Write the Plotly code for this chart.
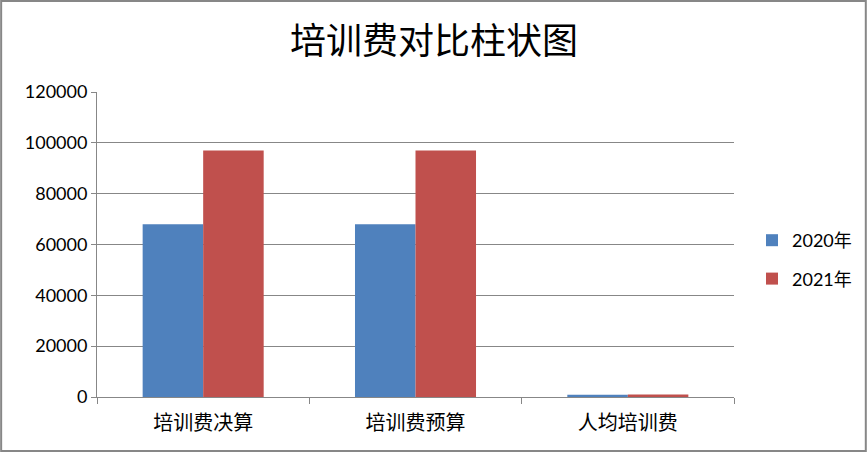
import plotly.graph_objects as go

categories = ["培训费决算", "培训费预算", "人均培训费"]
series_names = ["2020年", "2021年"]
values_2020 = [68000, 68000, 900]
values_2021 = [97000, 97000, 950]
colors = ["#4F81BD", "#C0504D"]

W, H = 868, 452
L, R, T, B = 97, 133, 92, 55
pw, ph = W - L - R, H - T - B

fig = go.Figure()
for name, vals, c in zip(series_names, [values_2020, values_2021], colors):
    fig.add_trace(go.Bar(x=categories, y=vals, name=name, legendgroup=name,
                         marker=dict(color=c, line=dict(width=0))))

font_lat = "Lato, 'Noto Sans CJK SC', sans-serif"
cjk = "'Noto Sans CJK SC', sans-serif"
fig.update_layout(
    width=W, height=H,
    margin=dict(l=L, r=R, t=T, b=B),
    paper_bgcolor="white", plot_bgcolor="white",
    barmode="group", bargap=0.43, bargroupgap=0,
    title=dict(text="培训费对比柱状图", x=0.5, xanchor="center", y=1 - 41 / H, yanchor="middle",
               font=dict(family=cjk, size=36, color="black")),
    legend=dict(x=(752 - L) / pw, y=(397 - 222) / ph, xanchor="left", yanchor="top",
                font=dict(family=font_lat, size=18, color="black"), tracegroupgap=12,
                itemwidth=30, bgcolor="rgba(0,0,0,0)"),
    showlegend=True,
)
fig.update_yaxes(range=[0, 120000], dtick=20000, showgrid=True, gridcolor="#878787", gridwidth=1,
                 showline=True, linecolor="#878787", linewidth=1, ticks="outside", ticklen=5,
                 tickcolor="#878787", tickfont=dict(family=font_lat, size=18, color="black"),
                 zeroline=False, tickformat="d")
fig.update_xaxes(showline=True, linecolor="#878787", linewidth=1, ticks="outside", ticklen=6,
                 tickcolor="#878787", tickson="boundaries", ticklabelstandoff=8,
                 tickfont=dict(family=cjk, size=20, color="black"))
# outer chart border
fig.add_shape(type="rect", xref="paper", yref="paper",
              x0=(1 - L) / pw, x1=(W - 1 - L) / pw,
              y0=-(B - 1) / ph, y1=(T - 1 + ph) / ph,
              line=dict(color="#878787", width=2), fillcolor="rgba(0,0,0,0)", layer="below")
fig.write_html("out.html", config={"displayModeBar": False},
               post_script="document.body.style.margin='0px';document.body.style.padding='0px';")
